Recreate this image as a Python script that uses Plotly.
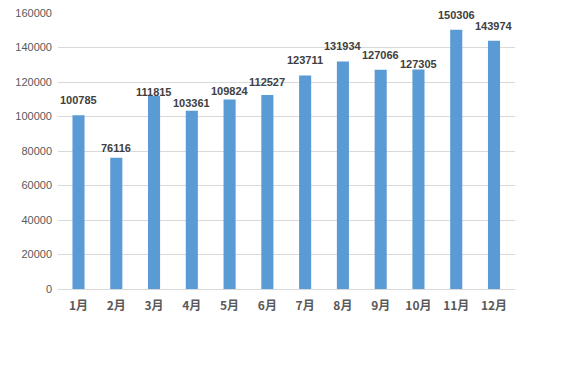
import plotly.graph_objects as go

months = ["1月", "2月", "3月", "4月", "5月", "6月", "7月", "8月", "9月", "10月", "11月", "12月"]
values = [100785, 76116, 111815, 103361, 109824, 112527, 123711, 131934, 127066, 127305, 150306, 143974]
y_ticks = [0, 20000, 40000, 60000, 80000, 100000, 120000, 140000, 160000]

# label distance above bar (px), as placed in the original
label_gap = [15, 10, 4, 8, 9, 13, 16, 15, 15, 5, 15, 15]

font_family = "Noto Sans CJK SC, Liberation Sans, sans-serif"

fig = go.Figure(go.Bar(
    x=months, y=values,
    marker=dict(color="#5B9BD5", line=dict(width=0)),
    width=0.32,
    hoverinfo="x+y",
))

for m, v, g in zip(months, values, label_gap):
    fig.add_annotation(
        x=m, y=v, text=str(v), showarrow=False,
        yanchor="middle", xanchor="center", yshift=g,
        font=dict(family="Liberation Sans, sans-serif", size=11, color="#404040", weight="bold"),
    )

# page body has an 8px default margin, so offsets are compensated
fig.update_layout(
    width=573, height=361,
    margin=dict(l=50, r=66, t=5, b=80, autoexpand=False),
    paper_bgcolor="white", plot_bgcolor="white",
    showlegend=False,
    font=dict(family=font_family, size=10, color="#595959"),
    xaxis=dict(showgrid=False, showline=True, linecolor="#D9D9D9", linewidth=1, automargin=False,
               ticklabelstandoff=6,
               tickfont=dict(size=12, color="#595959", weight="bold"), ticks=""),
    yaxis=dict(range=[0, 160000], tickvals=y_ticks, ticktext=[str(t) for t in y_ticks], automargin=False,
               ticklabeloverflow="allow", ticklabelstandoff=5,
               showgrid=True, gridcolor="#D9D9D9", gridwidth=1, zeroline=False,
               tickfont=dict(family="Liberation Sans, sans-serif", size=11, color="#595959"), ticks=""),
)

fig.write_html("out.html")
